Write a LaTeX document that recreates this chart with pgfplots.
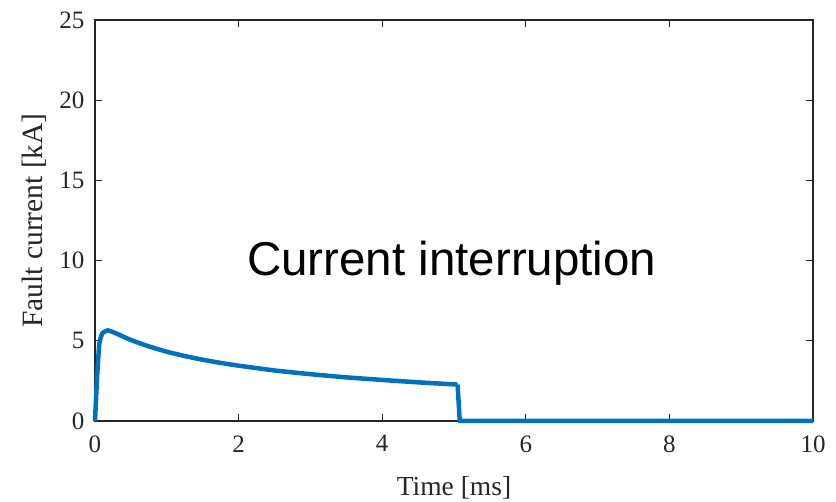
\documentclass[border=0pt]{standalone}
\usepackage{pgfplots}
\pgfplotsset{compat=1.18}
\usepackage{fontspec}
\setmainfont{Liberation Serif}
\newfontfamily\arialfont{Liberation Sans}
\definecolor{mblue}{RGB}{0,114,189}
\definecolor{axgray}{RGB}{38,38,38}
\begin{document}
\begin{tikzpicture}
\path[use as bounding box] (-95pt,-81pt) rectangle (741pt,421pt);
\begin{axis}[
  at={(0pt,0pt)}, anchor=south west,
  scale only axis, width=718pt, height=401pt,
  xmin=0, xmax=10, ymin=0, ymax=25,
  xtick={0,2,...,10}, ytick={0,5,...,25},
  tick align=inside, major tick length=7pt,
  axis line style={axgray, line width=1.2pt},
  every tick/.style={axgray, line width=1.2pt},
  tick label style={font=\fontsize{25}{30}\selectfont, text=axgray},
  /pgf/number format/assume math mode=true,
  xticklabel style={yshift=-11pt},
  yticklabel style={xshift=-7pt},
  xlabel={Time [ms]}, ylabel={Fault current [kA]},
  xlabel style={font=\fontsize{27.5}{32}\selectfont, text=axgray, at={(axis description cs:0.5,-0.187)}, anchor=base},
  ylabel style={font=\fontsize{29.5}{34}\selectfont, text=axgray, at={(axis description cs:-0.0738,0.5)}, anchor=base},
  clip=false,
]
\addplot[mblue, line width=4.5pt, line join=round, smooth, tension=0.3] coordinates {
(0,0) (0.03,2.8) (0.06,4.8) (0.1,5.45) (0.18,5.65) (0.3,5.45) (0.5,5.05) (0.75,4.65) (1,4.32) (1.25,4.05) (1.5,3.82) (1.75,3.62) (2,3.45) (2.5,3.15) (3,2.92) (3.5,2.72) (4,2.56) (4.5,2.41) (5.05,2.27)
};
\addplot[mblue, line width=4.5pt, line join=round] coordinates {
(5.05,2.27) (5.08,0) (10,0)
};
\node[anchor=base, font=\arialfont\fontsize{47.5}{55}\selectfont] at (axis cs:4.97,9.1) {Current interruption};
\end{axis}
\end{tikzpicture}
\end{document}
